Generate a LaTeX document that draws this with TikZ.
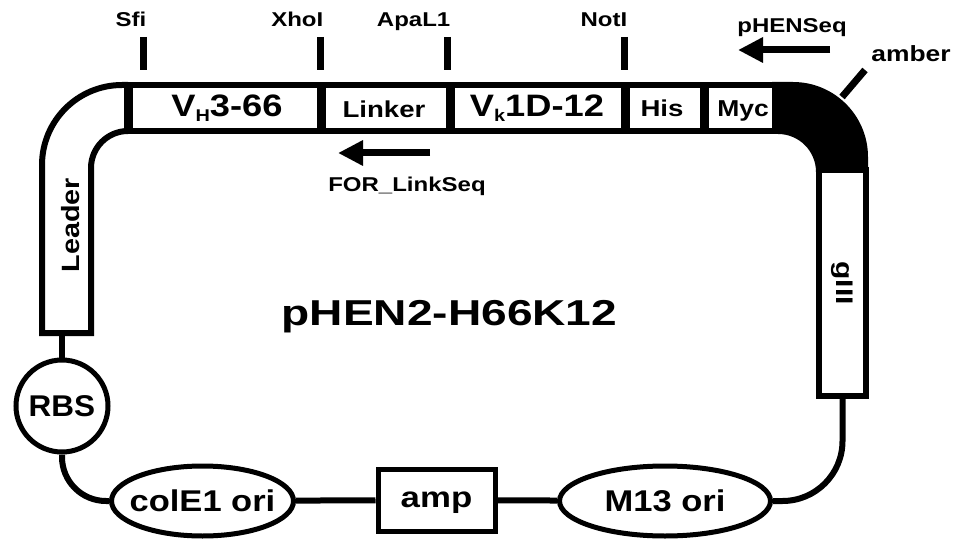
\documentclass[tikz,border=0pt]{standalone}
\usepackage{fontspec}
\usepackage{graphicx}
\setmainfont{Liberation Sans}
\usetikzlibrary{arrows.meta,shapes.geometric}

\newcommand{\fsz}[1]{\fontsize{#1}{#1}\selectfont\bfseries}
\newcommand{\wtxt}[2][1.2]{\scalebox{#1}[1]{#2}}
\newcommand{\vsub}[1]{\raisebox{-5pt}{\fontsize{17}{17}\selectfont #1}}

\begin{document}
\begin{tikzpicture}[x=1pt, y=-1pt, >={Triangle[length=25pt,width=24pt]},
	frame/.style={line width=6pt},
	wire/.style={line width=6pt},
	part/.style={draw, line width=5pt, fill=white, inner sep=0pt}]
	\useasboundingbox (0,0) rectangle (958,540);
	% leader, cassette and gIII
	\draw[frame, fill=white] (128,85) -- (122,85) arc (270:180:80) -- (42,333) -- (91,333) -- (91,168) arc (180:270:37) -- (128,131);
	\node[part, frame, rotate=-90, minimum width=226pt, minimum height=47pt, font=\fsz{24}] (giii) at (842.5,283) {\wtxt[1.25]{gIII}};
	\draw[frame, fill=white] (128,85) rectangle (775,131);
	\foreach \x in {128,321,450,625,704}
		\draw[line width=9pt] (\x,85) -- (\x,131);
	\fill (772,82) -- (793,82) arc (270:360:75) -- (868,172) -- (816,172) arc (0:-90:38) -- (772,134) -- cycle;
	\node[rotate=90, font=\fsz{25}] (leader) at (71,225) {\wtxt[1.15]{Leader}};
	\node[anchor=base, font=\fsz{31}] (vh) at (227,117) {\wtxt[1.17]{V\vsub{H}3-66}};
	\node[anchor=base, font=\fsz{23}] (linker) at (384,118) {\wtxt{Linker}};
	\node[anchor=base, font=\fsz{31}] (vk) at (537,117) {\wtxt[1.17]{V\vsub{k}1D-12}};
	\node[anchor=base, font=\fsz{23}] (his) at (662,117) {\wtxt{His}};
	\node[anchor=base, font=\fsz{23}] (myc) at (743,117) {\wtxt[1.15]{Myc}};
	% sites
	\foreach \x/\site in {143/Sfi,320/XhoI,447/ApaL1,624/NotI}{
		\draw[line width=7pt] (\x,37) -- (\x,70);
		\node[anchor=base east, inner sep=0pt, font=\fsz{20}] (\site) at (\x+3.5,27) {\wtxt{\site}};
	}
	% primers
	\coordinate (phenstart) at (830,50);
	\coordinate (phenend) at (738,50);
	\draw[->, line width=7pt] (phenstart) -- (phenend);
	\node[anchor=base, font=\fsz{20}] (phenseq) at (792,33) {\wtxt{pHENSeq}};
	\coordinate (forstart) at (430,153);
	\coordinate (forend) at (338,153);
	\draw[->, line width=7pt] (forstart) -- (forend);
	\node[anchor=base, font=\fsz{20}] (forlink) at (407,192) {\wtxt{FOR\_LinkSeq}};
	\coordinate (amberin) at (842,97);
	\coordinate (amberout) at (865,70);
	\draw[line width=7pt] (amberin) -- (amberout);
	\node[anchor=base, font=\fsz{22}] (amber) at (911,62) {\wtxt{amber}};
	\node[anchor=base, font=\fsz{36}] (title) at (449.5,325) {\wtxt[1.28]{pHEN2-H66K12}};
	% backbone
	\coordinate (leaderend) at (62,333);
	\node[part, circle, minimum size=92pt, font=\fsz{30}] (rbs) at (62,406) {\wtxt[1.05]{RBS}};
	\node[part, ellipse, minimum width=182pt, minimum height=70pt, inner xsep=-12pt, font=\fsz{30}] (cole) at (202.5,501) {\wtxt[1.15]{colE1 ori}};
	\node[part, rectangle, minimum width=117pt, minimum height=62pt, text height=14pt, text depth=0pt, font=\fsz{29}] (amp) at (436.5,500) {\wtxt{amp}};
	\node[part, ellipse, minimum width=211pt, minimum height=70pt, font=\fsz{30}] (m13) at (665,501) {\wtxt[1.15]{M13 ori}};
	\draw[wire] (leaderend) -- (rbs);
	\draw[wire, rounded corners=44pt] (rbs.south) |- (cole.west);
	\draw[wire] (cole) -- (amp);
	\draw[wire] (amp) -- (m13);
	\draw[wire, rounded corners=60pt] (m13.east) -| (giii.east);
\end{tikzpicture}
\end{document}
